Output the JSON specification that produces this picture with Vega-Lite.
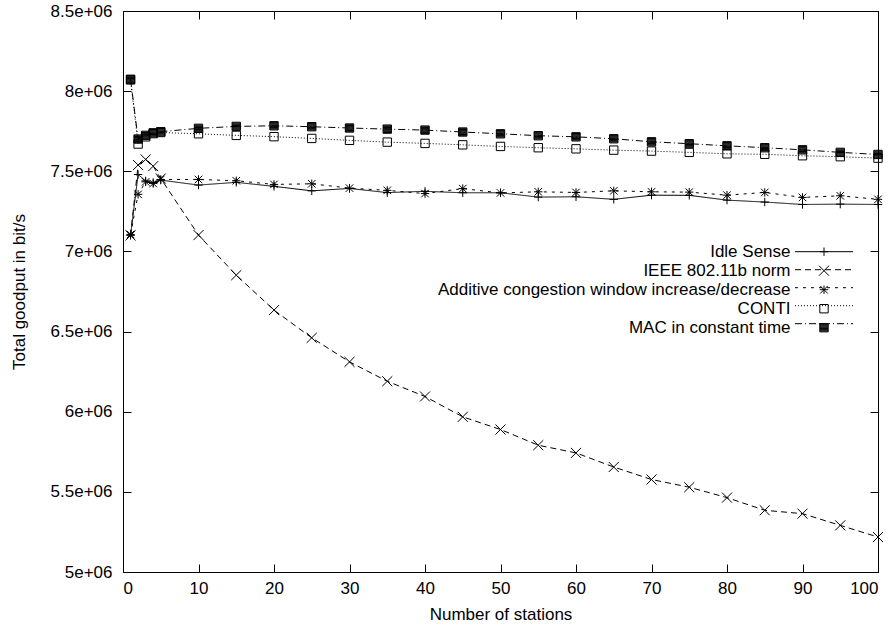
{
  "$schema": "https://vega.github.io/schema/vega-lite/v6.json",
  "width": 755,
  "height": 561,
  "autosize": {"type": "none"},
  "padding": {"left": 123, "top": 11, "right": 16, "bottom": 55},
  "background": "white",
  "config": {
    "font": "Liberation Sans",
    "view": {"stroke": "#000", "strokeWidth": 1},
    "axis": {
      "domain": false,
      "grid": false,
      "tickSize": -8,
      "tickColor": "#000",
      "tickWidth": 1,
      "labelFont": "Liberation Sans",
      "labelFontSize": 17,
      "labelColor": "#000",
      "titleFont": "Liberation Sans",
      "titleFontSize": 17,
      "titleFontWeight": "normal",
      "titleColor": "#000"
    },
    "legend": {
      "labelFont": "Liberation Sans",
      "labelFontSize": 17,
      "labelColor": "#000",
      "labelLimit": 500
    }
  },
  "data": {
    "values": [
      {"series": "Idle Sense", "stations": 1, "goodput": 7100000},
      {"series": "Idle Sense", "stations": 2, "goodput": 7480000},
      {"series": "Idle Sense", "stations": 3, "goodput": 7440000},
      {"series": "Idle Sense", "stations": 4, "goodput": 7430000},
      {"series": "Idle Sense", "stations": 5, "goodput": 7445000},
      {"series": "Idle Sense", "stations": 10, "goodput": 7414000},
      {"series": "Idle Sense", "stations": 15, "goodput": 7431000},
      {"series": "Idle Sense", "stations": 20, "goodput": 7406000},
      {"series": "Idle Sense", "stations": 25, "goodput": 7378000},
      {"series": "Idle Sense", "stations": 30, "goodput": 7393000},
      {"series": "Idle Sense", "stations": 35, "goodput": 7367000},
      {"series": "Idle Sense", "stations": 40, "goodput": 7375000},
      {"series": "Idle Sense", "stations": 45, "goodput": 7366000},
      {"series": "Idle Sense", "stations": 50, "goodput": 7366000},
      {"series": "Idle Sense", "stations": 55, "goodput": 7339000},
      {"series": "Idle Sense", "stations": 60, "goodput": 7341000},
      {"series": "Idle Sense", "stations": 65, "goodput": 7325000},
      {"series": "Idle Sense", "stations": 70, "goodput": 7351000},
      {"series": "Idle Sense", "stations": 75, "goodput": 7350000},
      {"series": "Idle Sense", "stations": 80, "goodput": 7320000},
      {"series": "Idle Sense", "stations": 85, "goodput": 7308000},
      {"series": "Idle Sense", "stations": 90, "goodput": 7293000},
      {"series": "Idle Sense", "stations": 95, "goodput": 7295000},
      {"series": "Idle Sense", "stations": 100, "goodput": 7293000},
      {"series": "IEEE 802.11b norm", "stations": 1, "goodput": 7100000},
      {"series": "IEEE 802.11b norm", "stations": 2, "goodput": 7539000},
      {"series": "IEEE 802.11b norm", "stations": 3, "goodput": 7574000},
      {"series": "IEEE 802.11b norm", "stations": 4, "goodput": 7532000},
      {"series": "IEEE 802.11b norm", "stations": 5, "goodput": 7455000},
      {"series": "IEEE 802.11b norm", "stations": 10, "goodput": 7102000},
      {"series": "IEEE 802.11b norm", "stations": 15, "goodput": 6852000},
      {"series": "IEEE 802.11b norm", "stations": 20, "goodput": 6634000},
      {"series": "IEEE 802.11b norm", "stations": 25, "goodput": 6461000},
      {"series": "IEEE 802.11b norm", "stations": 30, "goodput": 6311000},
      {"series": "IEEE 802.11b norm", "stations": 35, "goodput": 6190000},
      {"series": "IEEE 802.11b norm", "stations": 40, "goodput": 6095000},
      {"series": "IEEE 802.11b norm", "stations": 45, "goodput": 5968000},
      {"series": "IEEE 802.11b norm", "stations": 50, "goodput": 5889000},
      {"series": "IEEE 802.11b norm", "stations": 55, "goodput": 5791000},
      {"series": "IEEE 802.11b norm", "stations": 60, "goodput": 5743000},
      {"series": "IEEE 802.11b norm", "stations": 65, "goodput": 5655000},
      {"series": "IEEE 802.11b norm", "stations": 70, "goodput": 5577000},
      {"series": "IEEE 802.11b norm", "stations": 75, "goodput": 5529000},
      {"series": "IEEE 802.11b norm", "stations": 80, "goodput": 5464000},
      {"series": "IEEE 802.11b norm", "stations": 85, "goodput": 5385000},
      {"series": "IEEE 802.11b norm", "stations": 90, "goodput": 5364000},
      {"series": "IEEE 802.11b norm", "stations": 95, "goodput": 5291000},
      {"series": "IEEE 802.11b norm", "stations": 100, "goodput": 5218000},
      {"series": "Additive congestion window increase/decrease", "stations": 1, "goodput": 7106000},
      {"series": "Additive congestion window increase/decrease", "stations": 2, "goodput": 7356000},
      {"series": "Additive congestion window increase/decrease", "stations": 3, "goodput": 7434000},
      {"series": "Additive congestion window increase/decrease", "stations": 4, "goodput": 7424000},
      {"series": "Additive congestion window increase/decrease", "stations": 5, "goodput": 7449000},
      {"series": "Additive congestion window increase/decrease", "stations": 10, "goodput": 7449000},
      {"series": "Additive congestion window increase/decrease", "stations": 15, "goodput": 7441000},
      {"series": "Additive congestion window increase/decrease", "stations": 20, "goodput": 7418000},
      {"series": "Additive congestion window increase/decrease", "stations": 25, "goodput": 7422000},
      {"series": "Additive congestion window increase/decrease", "stations": 30, "goodput": 7395000},
      {"series": "Additive congestion window increase/decrease", "stations": 35, "goodput": 7381000},
      {"series": "Additive congestion window increase/decrease", "stations": 40, "goodput": 7361000},
      {"series": "Additive congestion window increase/decrease", "stations": 45, "goodput": 7392000},
      {"series": "Additive congestion window increase/decrease", "stations": 50, "goodput": 7365000},
      {"series": "Additive congestion window increase/decrease", "stations": 55, "goodput": 7372000},
      {"series": "Additive congestion window increase/decrease", "stations": 60, "goodput": 7368000},
      {"series": "Additive congestion window increase/decrease", "stations": 65, "goodput": 7378000},
      {"series": "Additive congestion window increase/decrease", "stations": 70, "goodput": 7372000},
      {"series": "Additive congestion window increase/decrease", "stations": 75, "goodput": 7370000},
      {"series": "Additive congestion window increase/decrease", "stations": 80, "goodput": 7351000},
      {"series": "Additive congestion window increase/decrease", "stations": 85, "goodput": 7368000},
      {"series": "Additive congestion window increase/decrease", "stations": 90, "goodput": 7337000},
      {"series": "Additive congestion window increase/decrease", "stations": 95, "goodput": 7347000},
      {"series": "Additive congestion window increase/decrease", "stations": 100, "goodput": 7325000},
      {"series": "CONTI", "stations": 1, "goodput": 8070000},
      {"series": "CONTI", "stations": 2, "goodput": 7670000},
      {"series": "CONTI", "stations": 3, "goodput": 7715000},
      {"series": "CONTI", "stations": 4, "goodput": 7735000},
      {"series": "CONTI", "stations": 5, "goodput": 7742000},
      {"series": "CONTI", "stations": 10, "goodput": 7734000},
      {"series": "CONTI", "stations": 15, "goodput": 7724000},
      {"series": "CONTI", "stations": 20, "goodput": 7716000},
      {"series": "CONTI", "stations": 25, "goodput": 7705000},
      {"series": "CONTI", "stations": 30, "goodput": 7693000},
      {"series": "CONTI", "stations": 35, "goodput": 7682000},
      {"series": "CONTI", "stations": 40, "goodput": 7674000},
      {"series": "CONTI", "stations": 45, "goodput": 7665000},
      {"series": "CONTI", "stations": 50, "goodput": 7655000},
      {"series": "CONTI", "stations": 55, "goodput": 7647000},
      {"series": "CONTI", "stations": 60, "goodput": 7640000},
      {"series": "CONTI", "stations": 65, "goodput": 7632000},
      {"series": "CONTI", "stations": 70, "goodput": 7626000},
      {"series": "CONTI", "stations": 75, "goodput": 7618000},
      {"series": "CONTI", "stations": 80, "goodput": 7609000},
      {"series": "CONTI", "stations": 85, "goodput": 7606000},
      {"series": "CONTI", "stations": 90, "goodput": 7597000},
      {"series": "CONTI", "stations": 95, "goodput": 7591000},
      {"series": "CONTI", "stations": 100, "goodput": 7582000},
      {"series": "MAC in constant time", "stations": 1, "goodput": 8074000},
      {"series": "MAC in constant time", "stations": 2, "goodput": 7701000},
      {"series": "MAC in constant time", "stations": 3, "goodput": 7724000},
      {"series": "MAC in constant time", "stations": 4, "goodput": 7740000},
      {"series": "MAC in constant time", "stations": 5, "goodput": 7747000},
      {"series": "MAC in constant time", "stations": 10, "goodput": 7768000},
      {"series": "MAC in constant time", "stations": 15, "goodput": 7780000},
      {"series": "MAC in constant time", "stations": 20, "goodput": 7784000},
      {"series": "MAC in constant time", "stations": 25, "goodput": 7778000},
      {"series": "MAC in constant time", "stations": 30, "goodput": 7770000},
      {"series": "MAC in constant time", "stations": 35, "goodput": 7763000},
      {"series": "MAC in constant time", "stations": 40, "goodput": 7757000},
      {"series": "MAC in constant time", "stations": 45, "goodput": 7745000},
      {"series": "MAC in constant time", "stations": 50, "goodput": 7734000},
      {"series": "MAC in constant time", "stations": 55, "goodput": 7722000},
      {"series": "MAC in constant time", "stations": 60, "goodput": 7715000},
      {"series": "MAC in constant time", "stations": 65, "goodput": 7703000},
      {"series": "MAC in constant time", "stations": 70, "goodput": 7684000},
      {"series": "MAC in constant time", "stations": 75, "goodput": 7672000},
      {"series": "MAC in constant time", "stations": 80, "goodput": 7659000},
      {"series": "MAC in constant time", "stations": 85, "goodput": 7647000},
      {"series": "MAC in constant time", "stations": 90, "goodput": 7634000},
      {"series": "MAC in constant time", "stations": 95, "goodput": 7618000},
      {"series": "MAC in constant time", "stations": 100, "goodput": 7605000}
    ]
  },
  "layer": [
    {
      "mark": {"type": "line", "color": "#000", "strokeWidth": 1},
      "encoding": {
        "x": {
          "field": "stations", "type": "quantitative",
          "scale": {"domain": [0, 100], "nice": false, "zero": false},
          "axis": {
            "orient": "bottom",
            "values": [0, 10, 20, 30, 40, 50, 60, 70, 80, 90, 100],
            "title": "Number of stations",
            "labelPadding": 16,
            "titlePadding": 10
          }
        },
        "y": {
          "field": "goodput", "type": "quantitative",
          "scale": {"domain": [5000000, 8500000], "nice": false, "zero": false},
          "axis": {
            "orient": "left",
            "values": [5000000, 5500000, 6000000, 6500000, 7000000, 7500000, 8000000, 8500000],
            "labelExpr": "replace(format(datum.value, '.2~e'), 'e+6', 'e+06')",
            "title": "Total goodput in bit/s",
            "labelPadding": 19,
            "titlePadding": 22
          }
        },
        "strokeDash": {
          "field": "series", "type": "nominal", "sort": null,
          "scale": {"range": [[1, 0], [6, 4], [3, 5], [1, 2], [7, 3, 1, 3]]},
          "legend": {
            "orient": "none", "legendX": 671.5, "legendY": 231.7,
            "title": null, "padding": 0,
            "symbolType": "stroke", "symbolSize": 3364,
            "symbolStrokeColor": "#000", "symbolStrokeWidth": 1,
            "clipHeight": 18, "rowPadding": 0,
            "labelExpr": "''"
          }
        }
      }
    },
    {
      "mark": {"type": "point", "filled": false, "stroke": "#000", "strokeWidth": 1, "size": 70, "opacity": 1},
      "encoding": {
        "x": {
          "field": "stations", "type": "quantitative",
          "axis": {"orient": "top", "values": [0, 10, 20, 30, 40, 50, 60, 70, 80, 90, 100], "labels": false, "title": null}
        },
        "y": {
          "field": "goodput", "type": "quantitative",
          "axis": {"orient": "right", "values": [5000000, 5500000, 6000000, 6500000, 7000000, 7500000, 8000000, 8500000], "labels": false, "title": null}
        },
        "shape": {
          "field": "series", "type": "nominal",
          "scale": {
            "domain": ["Idle Sense", "IEEE 802.11b norm", "Additive congestion window increase/decrease", "CONTI", "MAC in constant time"],
            "range": [
              "M-1,0L1,0M0,-1L0,1",
              "M-1.2,-1.2L1.2,1.2M-1.2,1.2L1.2,-1.2",
              "M-1,0L1,0M0,-1L0,1M-0.9,-0.9L0.9,0.9M-0.9,0.9L0.9,-0.9",
              "M-1,-1L1,-1L1,1L-1,1Z",
              "M-1,-1L1,-1L1,1L-1,1ZM-1,-0.8L1,-0.8M-1,-0.6L1,-0.6M-1,-0.4L1,-0.4M-1,-0.2L1,-0.2M-1,0L1,0M-1,0.2L1,0.2M-1,0.4L1,0.4M-1,0.6L1,0.6M-1,0.8L1,0.8"
            ]
          },
          "legend": {
            "orient": "none", "legendX": 692.5, "legendY": 232.2,
            "title": null, "padding": 0,
            "symbolSize": 70, "symbolStrokeColor": "#000", "symbolStrokeWidth": 1,
            "symbolFillColor": "transparent",
            "rowPadding": 1, "labelAlign": "right", "labelOffset": -42
          }
        }
      }
    }
  ],
  "resolve": {"axis": {"x": "independent", "y": "independent"}}
}
